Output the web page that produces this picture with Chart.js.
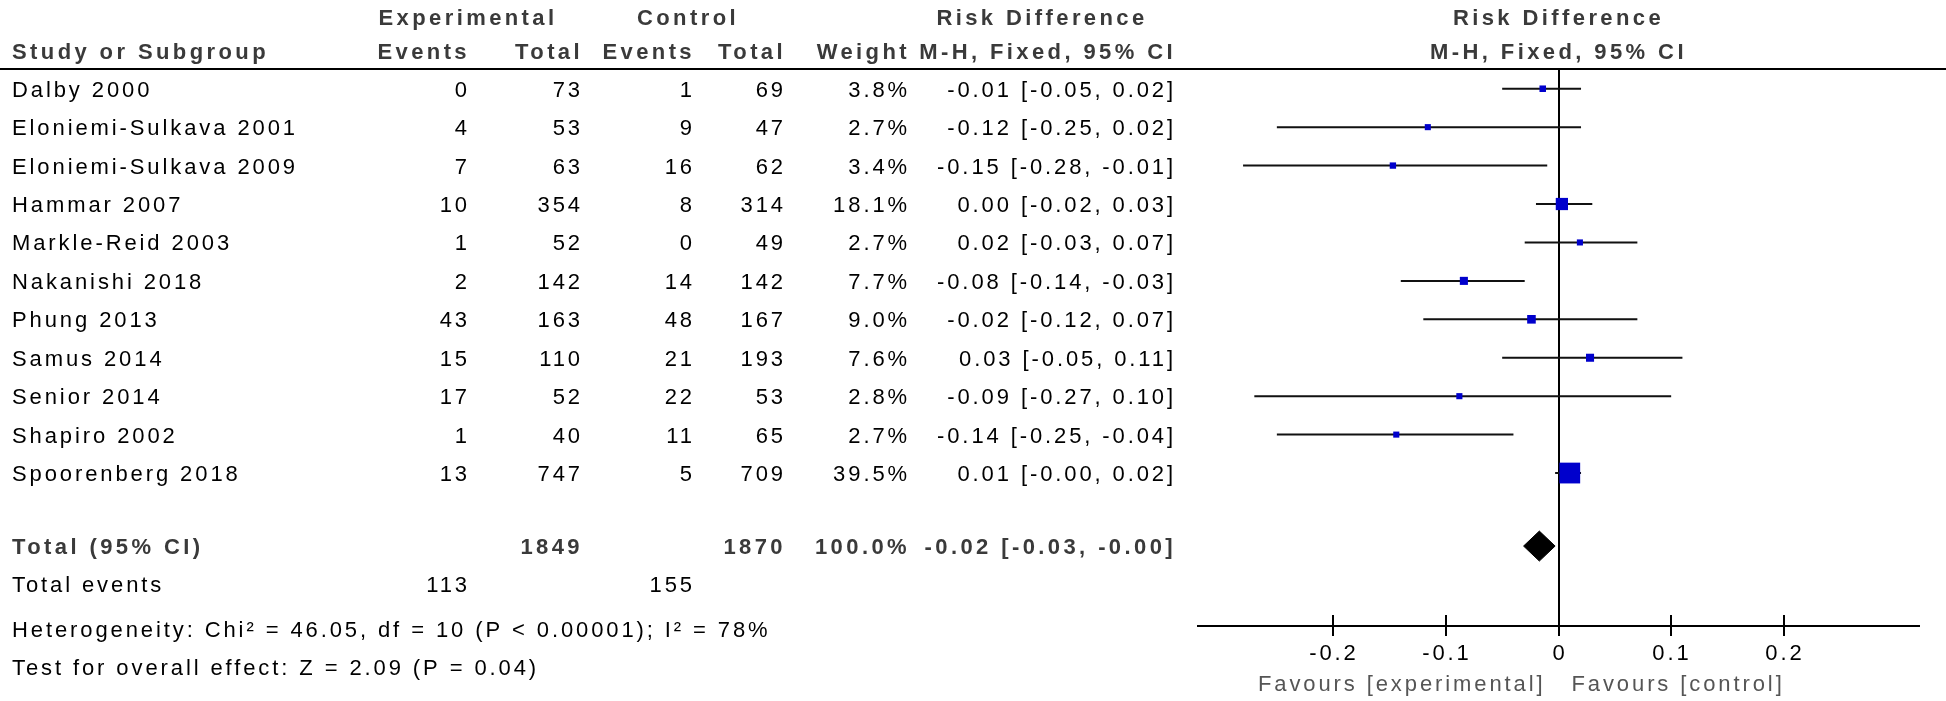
<!DOCTYPE html>
<html>
<head>
<meta charset="utf-8">
<script src="https://cdn.jsdelivr.net/npm/chart.js@4.4.1/dist/chart.umd.min.js"></script>
<style>
  html, body { margin: 0; padding: 0; background: #fff; }
  #wrap { width: 1946px; height: 701px; }
</style>
</head>
<body>
<div id="wrap"><canvas id="forest" width="1946" height="701"></canvas></div>
<script>
// study rows
const studies = ['Dalby 2000', 'Eloniemi-Sulkava 2001', 'Eloniemi-Sulkava 2009', 'Hammar 2007',
  'Markle-Reid 2003', 'Nakanishi 2018', 'Phung 2013', 'Samus 2014', 'Senior 2014',
  'Shapiro 2002', 'Spoorenberg 2018'];
const expEvents = [0, 4, 7, 10, 1, 2, 43, 15, 17, 1, 13];
const expTotal = [73, 53, 63, 354, 52, 142, 163, 110, 52, 40, 747];
const ctlEvents = [1, 9, 16, 8, 0, 14, 48, 21, 22, 11, 5];
const ctlTotal = [69, 47, 62, 314, 49, 142, 167, 193, 53, 65, 709];
const weights = [3.8, 2.7, 3.4, 18.1, 2.7, 7.7, 9.0, 7.6, 2.8, 2.7, 39.5];
const riskDiff = [-0.014, -0.116, -0.147, 0.003, 0.019, -0.084, -0.024, 0.028, -0.088, -0.144, 0.010];
const ciLow = [-0.05, -0.25, -0.28, -0.02, -0.03, -0.14, -0.12, -0.05, -0.27, -0.25, -0.003];
const ciHigh = [0.02, 0.02, -0.01, 0.03, 0.07, -0.03, 0.07, 0.11, 0.10, -0.04, 0.02];

// pooled result
const totalExp = 1849, totalCtl = 1870, totalWeight = 100.0;
const totalRd = -0.017, totalLow = -0.031, totalHigh = -0.003;
const totalEventsExp = 113, totalEventsCtl = 155;
const heterogeneity = 'Heterogeneity: Chi\u00b2 = 46.05, df = 10 (P < 0.00001); I\u00b2 = 78%';
const overallEffect = 'Test for overall effect: Z = 2.09 (P = 0.04)';

const xTicks = [-0.2, -0.1, 0, 0.1, 0.2];

// row positions on the y scale
const totalRow = 11.9, eventsRow = 12.9, hetRow = 14.05, testRow = 15.05;

const fmt2 = v => v.toFixed(2);
const ciText = (e, l, h) => fmt2(e) + ' [' + fmt2(l) + ', ' + fmt2(h) + ']';

// CI whiskers, separated by gaps
const ciData = [];
studies.forEach((s, i) => {
  ciData.push({x: ciLow[i], y: i}, {x: ciHigh[i], y: i}, {x: null, y: null});
});

const dh = 0.39; // diamond half height in rows
const diamondData = [
  {x: totalLow, y: totalRow}, {x: totalRd, y: totalRow - dh},
  {x: totalHigh, y: totalRow}, {x: totalRd, y: totalRow + dh}, {x: totalLow, y: totalRow}
];

const COLS = {expEv: 470, expTot: 583, ctlEv: 695, ctlTot: 786, weight: 910, rd: 1176};
const FONT = '"Liberation Sans", Arial, sans-serif';
const TXT_OFF = 8; // baseline below row centre

function txt(ctx, s, x, y, align, bold, color) {
  ctx.font = (bold ? 'bold ' : '') + '22px ' + FONT;
  ctx.fillStyle = color || '#000';
  ctx.textAlign = align;
  ctx.textBaseline = 'alphabetic';
  ctx.letterSpacing = bold ? '3.4px' : '2.9px';
  ctx.fillText(s, x, y);
}

const tablePlugin = {
  id: 'table',
  afterDraw(chart) {
    const ctx = chart.ctx;
    const xs = chart.scales.x, ys = chart.scales.y;
    const hdr = '#3a3a3a';
    ctx.save();

    // header rule
    ctx.strokeStyle = '#000';
    ctx.lineWidth = 2;
    ctx.beginPath();
    ctx.moveTo(0, chart.chartArea.top);
    ctx.lineTo(1946, chart.chartArea.top);
    ctx.stroke();

    // headers
    txt(ctx, 'Experimental', 468, 25, 'center', true, hdr);
    txt(ctx, 'Control', 688, 25, 'center', true, hdr);
    txt(ctx, 'Risk Difference', 1042, 25, 'center', true, hdr);
    txt(ctx, 'Risk Difference', xs.getPixelForValue(0), 25, 'center', true, hdr);
    txt(ctx, 'Study or Subgroup', 12, 59, 'left', true, hdr);
    txt(ctx, 'Events', COLS.expEv, 59, 'right', true, hdr);
    txt(ctx, 'Total', COLS.expTot, 59, 'right', true, hdr);
    txt(ctx, 'Events', COLS.ctlEv, 59, 'right', true, hdr);
    txt(ctx, 'Total', COLS.ctlTot, 59, 'right', true, hdr);
    txt(ctx, 'Weight', COLS.weight, 59, 'right', true, hdr);
    txt(ctx, 'M-H, Fixed, 95% CI', COLS.rd, 59, 'right', true, hdr);
    txt(ctx, 'M-H, Fixed, 95% CI', xs.getPixelForValue(0), 59, 'center', true, hdr);

    // study rows
    studies.forEach((s, i) => {
      const y = ys.getPixelForValue(i) + TXT_OFF;
      txt(ctx, s, 12, y, 'left');
      txt(ctx, String(expEvents[i]), COLS.expEv, y, 'right');
      txt(ctx, String(expTotal[i]), COLS.expTot, y, 'right');
      txt(ctx, String(ctlEvents[i]), COLS.ctlEv, y, 'right');
      txt(ctx, String(ctlTotal[i]), COLS.ctlTot, y, 'right');
      txt(ctx, weights[i].toFixed(1) + '%', COLS.weight, y, 'right');
      txt(ctx, ciText(riskDiff[i], ciLow[i], ciHigh[i]), COLS.rd, y, 'right');
    });

    // total rows
    let y = ys.getPixelForValue(totalRow) + TXT_OFF;
    txt(ctx, 'Total (95% CI)', 12, y, 'left', true, hdr);
    txt(ctx, String(totalExp), COLS.expTot, y, 'right', true, hdr);
    txt(ctx, String(totalCtl), COLS.ctlTot, y, 'right', true, hdr);
    txt(ctx, totalWeight.toFixed(1) + '%', COLS.weight, y, 'right', true, hdr);
    txt(ctx, ciText(totalRd, totalLow, totalHigh), COLS.rd, y, 'right', true, hdr);
    y = ys.getPixelForValue(eventsRow) + TXT_OFF;
    txt(ctx, 'Total events', 12, y, 'left');
    txt(ctx, String(totalEventsExp), COLS.expEv, y, 'right');
    txt(ctx, String(totalEventsCtl), COLS.ctlEv, y, 'right');
    txt(ctx, heterogeneity, 12, ys.getPixelForValue(hetRow) + TXT_OFF, 'left');
    txt(ctx, overallEffect, 12, ys.getPixelForValue(testRow) + TXT_OFF, 'left');

    // axis ticks and labels
    const ay = chart.chartArea.bottom;
    ctx.strokeStyle = '#000';
    ctx.lineWidth = 2;
    xTicks.forEach(v => {
      const px = Math.round(xs.getPixelForValue(v));
      ctx.beginPath();
      ctx.moveTo(px, ay - 11);
      ctx.lineTo(px, ay + 10);
      ctx.stroke();
      txt(ctx, String(v), px + 1, ay + 34, 'center');
    });
    const zx = xs.getPixelForValue(0);
    txt(ctx, 'Favours [experimental]', zx - 13, ay + 65, 'right', false, '#555');
    txt(ctx, 'Favours [control]', zx + 13, ay + 65, 'left', false, '#555');
    ctx.restore();
  }
};

new Chart(document.getElementById('forest'), {
  type: 'scatter',
  data: {
    datasets: [
      {
        label: 'Studies',
        data: studies.map((s, i) => ({x: riskDiff[i], y: i})),
        pointStyle: 'rect',
        pointRadius: ctx => (5 + 0.4 * weights[ctx.dataIndex]) / Math.SQRT2,
        backgroundColor: '#0000cc',
        borderWidth: 0
      },
      {
        label: 'Total',
        data: diamondData,
        showLine: true,
        fill: 'shape',
        tension: 0,
        backgroundColor: '#000',
        borderColor: '#000',
        borderWidth: 1,
        pointRadius: 0
      },
      {
        label: 'CI',
        data: ciData,
        showLine: true,
        spanGaps: false,
        borderColor: '#111',
        borderWidth: 2,
        pointRadius: 0
      }
    ]
  },
  options: {
    responsive: false,
    animation: false,
    layout: { padding: { left: 1198, right: 27, top: 69, bottom: 0 } },
    plugins: { legend: { display: false }, tooltip: { enabled: false } },
    scales: {
      x: {
        type: 'linear',
        min: -0.32,
        max: 0.32,
        afterBuildTicks: s => { s.ticks = xTicks.map(v => ({value: v})); },
        afterFit: s => { s.height = 75; },
        ticks: { display: false },
        border: { display: true, color: '#000', width: 2 },
        grid: {
          drawTicks: false,
          lineWidth: 2,
          color: c => (c.tick && c.tick.value === 0 ? '#000' : 'rgba(0,0,0,0)')
        }
      },
      y: {
        type: 'linear',
        display: false,
        reverse: true,
        min: -0.513,
        max: 13.98
      }
    }
  },
  plugins: [tablePlugin]
});
</script>
</body>
</html>
